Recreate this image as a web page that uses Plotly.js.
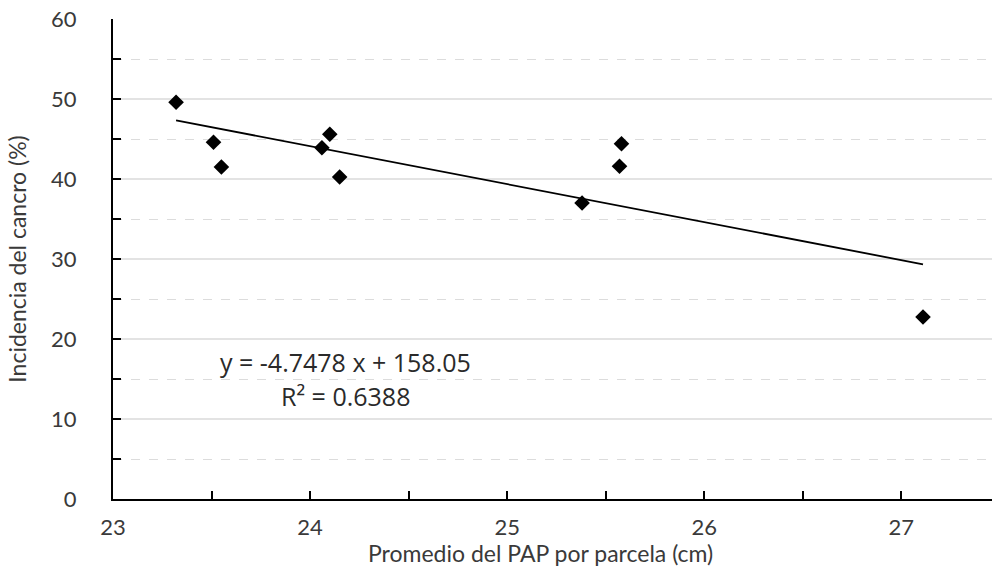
<!DOCTYPE html>
<html>
<head>
<meta charset="utf-8">
<script src="https://cdn.plot.ly/plotly-3.0.1.min.js"></script>
<style>html,body{margin:0;padding:0;background:#fff;}#chart{width:992px;height:571px;}</style>
</head>
<body>
<div id="chart"></div>
<script>
// Data
const papPromedio = [23.32, 23.51, 23.55, 24.06, 24.10, 24.15, 25.38, 25.57, 25.58, 27.11];
const incidencia  = [49.6, 44.6, 41.5, 43.9, 45.6, 40.25, 37.0, 41.6, 44.4, 22.75];
const slope = -4.7478;
const intercept = 158.05;
const r2 = 0.6388;
const yTicks = [0, 10, 20, 30, 40, 50, 60];
const xTicks = [23, 24, 25, 26, 27];
const xTitle = 'Promedio del PAP por parcela (cm)';
const yTitle = 'Incidencia del cancro (%)';

const xMin = Math.min(...papPromedio);
const xMax = Math.max(...papPromedio);
const trendX = [xMin, xMax];
const trendY = trendX.map(x => slope * x + intercept);

const tickFont = {family: 'Lato, "Open Sans", sans-serif', size: 22, color: '#3a3a3a'};
const titleFont = {family: 'Lato, "Open Sans", sans-serif', size: 23, color: '#3a3a3a'};
const eqFont = {family: '"Open Sans", "Liberation Sans", sans-serif', size: 25, color: '#2a2a2a'};

const traces = [
  {x: trendX, y: trendY, mode: 'lines', type: 'scatter',
   line: {color: '#000', width: 1.8}, hoverinfo: 'skip', showlegend: false},
  {x: papPromedio, y: incidencia, mode: 'markers', type: 'scatter',
   marker: {symbol: 'diamond', size: 12, color: '#000'}, showlegend: false}
];

const layout = {
  width: 992, height: 571,
  margin: {l: 113, r: 0, t: 19, b: 72},
  paper_bgcolor: '#fff', plot_bgcolor: '#fff',
  showlegend: false,
  xaxis: {
    range: [23, 27.46], tickvals: xTicks, ticktext: xTicks.map(String),
    showgrid: false, zeroline: false,
    showline: true, linecolor: '#000', linewidth: 2,
    ticks: 'inside', ticklen: 8, tickwidth: 2, tickcolor: '#000',
    minor: {dtick: 0.5, ticks: 'inside', ticklen: 8, tickwidth: 2, tickcolor: '#000', showgrid: false},
    tickfont: tickFont, ticklabelstandoff: 8
  },
  yaxis: {
    range: [0, 60], tickvals: yTicks, ticktext: yTicks.map(String),
    showgrid: true, gridcolor: '#e3e3e3', gridwidth: 1.5,
    zeroline: false,
    showline: true, linecolor: '#000', linewidth: 2,
    ticks: 'inside', ticklen: 8, tickwidth: 2, tickcolor: '#000',
    minor: {dtick: 5, ticks: 'inside', ticklen: 8, tickwidth: 2, tickcolor: '#000',
            showgrid: true, gridcolor: '#dcdcdc', griddash: 'dash', gridwidth: 1},
    tickfont: tickFont, ticklabelstandoff: 30,
    title: {text: yTitle, font: titleFont, standoff: 18}
  },
  annotations: [
    {xref: 'paper', yref: 'paper', x: (540 - 113) / 879, y: (499 - 553) / 480,
     xanchor: 'center', yanchor: 'middle',
     text: xTitle, showarrow: false, font: titleFont},
    {xref: 'paper', yref: 'paper', x: (345 - 113) / 879, y: (499 - 362) / 480,
     xanchor: 'center', yanchor: 'middle',
     text: 'y = -4.7478 x + 158.05', showarrow: false, font: eqFont},
    {xref: 'paper', yref: 'paper', x: (345 - 113) / 879, y: (499 - 396) / 480,
     xanchor: 'center', yanchor: 'middle',
     text: 'R² = ' + r2.toFixed(4), showarrow: false, font: eqFont}
  ]
};

Plotly.newPlot('chart', traces, layout, {displayModeBar: false, staticPlot: true});
</script>
</body>
</html>
